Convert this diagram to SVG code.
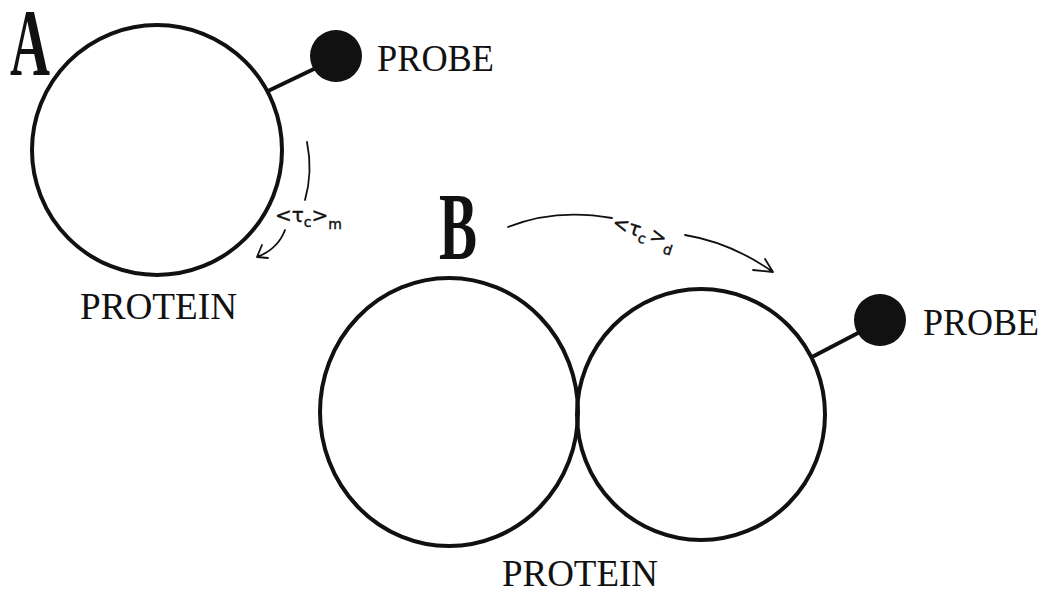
<svg xmlns="http://www.w3.org/2000/svg" width="1052" height="590" viewBox="0 0 1052 590">
<defs>
<style>
.prot{fill:none;stroke:#111;stroke-width:4}
.stick{stroke:#111;stroke-width:4;stroke-linecap:round}
.ball{fill:#111}
.lbl{font-family:"Liberation Serif",serif;font-size:38px;fill:#111}
.big{font-family:"Liberation Serif",serif;font-weight:bold;font-size:96px;fill:#111}
.hand{font-family:"DejaVu Sans",sans-serif;font-size:20px;fill:#111;stroke:#111;stroke-width:0.4}
.arr{fill:none;stroke:#111;stroke-width:1.8;stroke-linecap:round;stroke-linejoin:round}
</style>
</defs>
<rect width="1052" height="590" fill="#fff"/>
<g id="panelA">
<text class="big" x="10" y="75" textLength="40" lengthAdjust="spacingAndGlyphs">A</text>
<g id="proteinA">
<circle class="prot" cx="157" cy="150" r="125"/>
<text class="lbl" x="80" y="319" textLength="157" lengthAdjust="spacingAndGlyphs">PROTEIN</text>
</g>
<g id="probeA">
<line class="stick" x1="268" y1="91" x2="316" y2="68"/>
<circle class="ball" cx="336" cy="56" r="26"/>
<text class="lbl" x="377" y="71" textLength="117" lengthAdjust="spacingAndGlyphs">PROBE</text>
</g>
</g>
<g id="panelB">
<text class="big" x="439" y="259" textLength="38" lengthAdjust="spacingAndGlyphs">B</text>
<g id="proteinB">
<ellipse class="prot" cx="449" cy="412" rx="129" ry="134"/>
<ellipse class="prot" cx="701" cy="414.5" rx="124" ry="125.5"/>
<text class="lbl" x="502" y="586" textLength="156" lengthAdjust="spacingAndGlyphs">PROTEIN</text>
</g>
<g id="probeB">
<line class="stick" x1="812" y1="357" x2="858" y2="333"/>
<circle class="ball" cx="880" cy="320" r="26"/>
<text class="lbl" x="923" y="335" textLength="116" lengthAdjust="spacingAndGlyphs">PROBE</text>
</g>
</g>
<g id="connectors">
<path class="arr" d="M307,142 Q313,172 305,200"/>
<path class="arr" d="M285,230 Q278,249 257,257 M262,245 L257,257 L268,258"/>
<path class="arr" d="M508,227 Q555,208 612,218"/>
<path class="arr" d="M685,235 Q731,242.5 773,272 M753,270 L773,272 L765,259"/>
<text class="hand" x="275" y="222">&lt;τ<tspan font-size="14" dy="5">c</tspan><tspan dy="-5">&gt;</tspan><tspan font-size="14" dy="7">m</tspan></text>
<text class="hand" x="611" y="228" transform="rotate(18 611 228)">&lt;τ<tspan font-size="14" dy="5">c</tspan><tspan dx="3" dy="-5">&gt;</tspan><tspan font-size="14" dy="8">d</tspan></text>
</g>
</svg>
